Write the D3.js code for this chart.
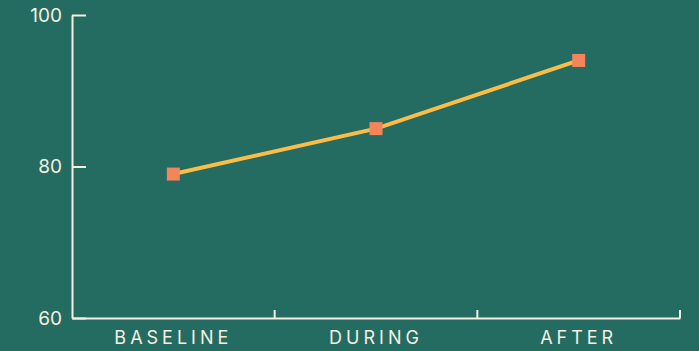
<!DOCTYPE html>
<html>
<head>
<meta charset="utf-8">
<script src="https://cdn.jsdelivr.net/npm/d3@7"></script>
<style>
  html, body { margin: 0; padding: 0; background: #246b61; }
  svg { display: block; }
</style>
</head>
<body>
<script>
// data
var phases = ['BASELINE', 'DURING', 'AFTER'];
var scores = [79, 85, 94];
var yTicks = [60, 80, 100];

var width = 699, height = 351;
var plotLeft = 72, plotRight = 680, plotTop = 15, plotBottom = 318;

var cream = '#f4efe1';

var svg = d3.select('body').append('svg')
    .attr('width', width)
    .attr('height', height)
    .style('background', '#246b61')

var x = d3.scaleBand()
    .domain(phases)
    .range([plotLeft, plotRight])
    .padding(0)

var y = d3.scaleLinear()
    .domain([60, 100])
    .range([plotBottom, plotTop])

// y axis, ticks pointing into the plot
var yAxis = svg.append('g')
    .attr('transform', 'translate(' + plotLeft + ',0)')
    .call(d3.axisLeft(y).tickValues(yTicks).tickSizeInner(-14).tickSizeOuter(0).tickPadding(10))

yAxis.select('.domain').attr('stroke', cream).attr('stroke-width', 2)
yAxis.selectAll('.tick line').attr('stroke', cream).attr('stroke-width', 2)
yAxis.selectAll('.tick text')
    .attr('fill', cream)
    .style('font-family', 'Inter, sans-serif')
    .style('font-size', '19px')

// x axis line + labels
var xAxis = svg.append('g')
    .attr('transform', 'translate(0,' + plotBottom + ')')
    .call(d3.axisBottom(x).tickSize(0).tickPadding(10))

xAxis.select('.domain').attr('stroke', cream).attr('stroke-width', 2)
xAxis.selectAll('.tick text')
    .attr('fill', cream)
    .attr('dy', '0.9em')
    .style('font-family', 'Inter, sans-serif')
    .style('font-size', '18px')
    .style('letter-spacing', '4px')

// small upward ticks at band boundaries
svg.append('g').selectAll('line')
    .data(phases)
    .enter().append('line')
    .attr('x1', function (d) { return x(d) + x.bandwidth() })
    .attr('x2', function (d) { return x(d) + x.bandwidth() })
    .attr('y1', plotBottom)
    .attr('y2', plotBottom - 8)
    .attr('stroke', cream)
    .attr('stroke-width', 2)

var pts = phases.map(function (p, i) { return { phase: p, value: scores[i] } });

var line = d3.line()
    .x(function (d) { return x(d.phase) + x.bandwidth() / 2 })
    .y(function (d) { return y(d.value) })

svg.append('path')
    .datum(pts)
    .attr('d', line)
    .attr('fill', 'none')
    .attr('stroke', '#fbbd45')
    .attr('stroke-width', 4)

var s = 13;
svg.append('g').selectAll('rect')
    .data(pts)
    .enter().append('rect')
    .attr('x', function (d) { return x(d.phase) + x.bandwidth() / 2 - s / 2 })
    .attr('y', function (d) { return y(d.value) - s / 2 })
    .attr('width', s)
    .attr('height', s)
    .attr('fill', '#f4845a')
</script>
</body>
</html>
